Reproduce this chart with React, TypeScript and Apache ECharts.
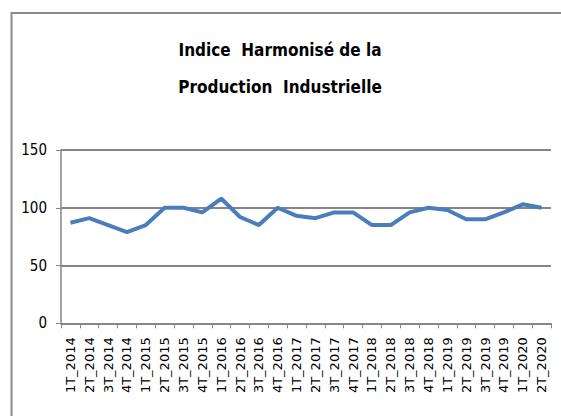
import React, { useEffect, useRef } from "react";
import * as echarts from "echarts";

const titleText = "Indice  Harmonisé de la\nProduction  Industrielle";

const categories = [
  "1T_2014", "2T_2014", "3T_2014", "4T_2014",
  "1T_2015", "2T_2015", "3T_2015", "4T_2015",
  "1T_2016", "2T_2016", "3T_2016", "4T_2016",
  "1T_2017", "2T_2017", "3T_2017", "4T_2017",
  "1T_2018", "2T_2018", "3T_2018", "4T_2018",
  "1T_2019", "2T_2019", "3T_2019", "4T_2019",
  "1T_2020", "2T_2020",
];

const ihpiValues = [
  87, 91, 85, 79,
  85, 100, 100, 96,
  108, 92, 85, 100,
  93, 91, 96, 96,
  85, 85, 96, 100,
  98, 90, 90, 96,
  103, 100,
];

const yTicks = { min: 0, max: 150, interval: 50 };

export default function App() {
  const ref = useRef<HTMLDivElement>(null);

  useEffect(() => {
    if (!ref.current) return;
    const chart = echarts.init(ref.current, undefined, { renderer: "svg" });
    const gray = "#868686";
    chart.setOption({
      animation: false,
      backgroundColor: "#ffffff",
      title: {
        text: titleText,
        left: 275,
        top: 26,
        textAlign: "center",
        textStyle: {
          fontFamily: "DejaVu Sans Condensed",
          fontWeight: "bold",
          fontSize: 17,
          lineHeight: 37,
          color: "#000000",
        },
      },
      graphic: [
        {
          type: "rect",
          shape: { x: 11.5, y: 13, width: 600, height: 500 },
          style: { fill: "none", stroke: "#8a8a8a", lineWidth: 2 },
          silent: true,
        },
      ],
      grid: { left: 61, right: 10, top: 150, height: 173.3 },
      xAxis: {
        type: "category",
        data: categories,
        boundaryGap: true,
        axisLine: { show: true, lineStyle: { color: gray, width: 1.5 } },
        axisTick: { show: true, length: 5, alignWithLabel: false, lineStyle: { color: gray, width: 1 } },
        axisLabel: {
          interval: 0,
          rotate: 90,
          margin: 14,
          fontFamily: "DejaVu Sans",
          fontSize: 13,
          color: "#000000",
        },
        splitLine: { show: false },
      },
      yAxis: {
        type: "value",
        min: yTicks.min,
        max: yTicks.max,
        interval: yTicks.interval,
        axisLine: { show: true, lineStyle: { color: gray, width: 1.5 } },
        axisTick: { show: true, length: 5, lineStyle: { color: gray, width: 1 } },
        axisLabel: {
          margin: 14,
          fontFamily: "DejaVu Sans Condensed",
          fontSize: 15,
          color: "#000000",
        },
        splitLine: { show: true, lineStyle: { color: gray, width: 2 } },
      },
      series: [
        {
          type: "line",
          data: ihpiValues,
          showSymbol: false,
          symbol: "none",
          lineStyle: { color: "#4a7ebb", width: 4 },
          itemStyle: { color: "#4a7ebb" },
        },
      ],
    });
    return () => chart.dispose();
  }, []);

  return (
    <div
      ref={ref}
      style={{ position: "fixed", left: 0, top: 0, width: 561, height: 416 }}
    />
  );
}
